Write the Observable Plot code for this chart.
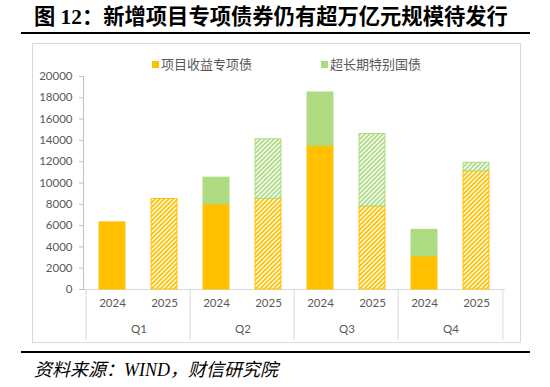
<!DOCTYPE html>
<html><head><meta charset="utf-8">
<script src="https://cdn.jsdelivr.net/npm/d3@7"></script>
<script src="https://cdn.jsdelivr.net/npm/@observablehq/plot@0.6"></script>
<style>
body{margin:0;background:#fff;}
#wrap{position:relative;width:550px;height:387px;overflow:hidden;font-family:"Noto Sans CJK SC",sans-serif;}
#wrap svg{position:absolute;left:0;top:0;}
#frame{position:absolute;left:32px;top:43px;width:487px;height:298px;border:1px solid #d9d9d9;}
.rule{position:absolute;left:21px;width:509px;height:2px;background:#000;}
#title{position:absolute;left:34px;top:4px;font-family:"Liberation Serif","Noto Sans CJK SC",serif;font-weight:700;font-size:21.3px;line-height:26px;color:#000;white-space:nowrap;}
#source{position:absolute;left:34px;top:358px;font-family:"Liberation Serif","Noto Sans CJK SC",serif;font-style:italic;font-size:18px;line-height:24px;color:#000;white-space:nowrap;}
.leg{position:absolute;top:56px;font-size:13px;line-height:16px;color:#595959;white-space:nowrap;}
.sw{display:inline-block;width:7px;height:7px;margin-right:2px;vertical-align:1px;}
</style></head><body>
<div id="wrap">
  <div id="frame"></div>
  <div id="title">图 12：新增项目专项债券仍有超万亿元规模待发行</div>
  <div class="rule" style="top:32px"></div>
  <div class="leg" id="leg0" style="left:152px"></div>
  <div class="leg" id="leg1" style="left:321px"></div>
  <div class="rule" style="top:351px"></div>
  <div id="source">资料来源：WIND，财信研究院</div>
</div>
<script>
// ---- data ----
const quarters = ["Q1", "Q2", "Q3", "Q4"];
const years = ["2024", "2025"];
const seriesNames = ["项目收益专项债", "超长期特别国债"];
const seriesColors = ["#FFC000", "#AEDB82"];
const specialBonds = [6300, 8500, 8000, 8500, 13500, 7800, 3100, 11100];
const ultraLongBonds = [0, 0, 2500, 5600, 5000, 6800, 2500, 800];
const yTicks = [0, 2000, 4000, 6000, 8000, 10000, 12000, 14000, 16000, 18000, 20000];

const keys = quarters.flatMap(q => years.map(y => `${q}-${y}`));
const rows = [];
[specialBonds, ultraLongBonds].forEach((vals, si) => {
  keys.forEach((k, i) => {
    if (vals[i] > 0) rows.push({key: k, year: k.split("-")[1], si, series: seriesNames[si], value: vals[i]});
  });
});

const W = 550, H = 387, mL = 83, mR = 45, mT = 76, mB = 98;
const step = (W - mL - mR) / keys.length;
const plotH = H - mT - mB;

const colorDomain = ["s0", "h0", "s1", "h1"];
const colorRange = [seriesColors[0], "url(#hatch0)", seriesColors[1], "url(#hatch1)"];

const chart = Plot.plot({
  width: W, height: H,
  marginLeft: mL, marginRight: mR, marginTop: mT, marginBottom: mB,
  style: {background: "transparent", fontFamily: "Lato, 'Noto Sans', sans-serif", fontSize: "11.5px", color: "#595959"},
  x: {type: "band", domain: keys, paddingInner: 0.5, paddingOuter: 0.25, axis: null},
  y: {domain: [0, 20000], axis: null},
  color: {type: "ordinal", domain: colorDomain, range: colorRange},
  marks: [
    Plot.ruleY([0], {stroke: "#d9d9d9"}),
    Plot.ruleX(quarters.map(q => `${q}-2024`), {dx: -step / 2, insetTop: plotH, insetBottom: -51, stroke: "#d9d9d9"}),
    Plot.ruleX([keys[keys.length - 1]], {dx: step / 2, insetTop: plotH, insetBottom: -51, stroke: "#d9d9d9"}),
    Plot.barY(rows, Plot.stackY({
      x: "key", y: "value", z: "series",
      fill: d => (d.year === "2025" ? "h" : "s") + d.si,
      stroke: d => "s" + d.si,
      strokeWidth: 1
    })),
    Plot.frame({anchor: "left", stroke: "#bfbfbf"}),
    Plot.axisY({ticks: yTicks, tickSize: 4, tickPadding: 7, tickFormat: d => String(d), stroke: "#bfbfbf", fill: "#595959", label: null, fontSize: 11.5}),
    Plot.text(keys, {x: d => d, text: d => d.split("-")[1], frameAnchor: "bottom", dy: 17, fill: "#595959", fontSize: 11.5}),
    Plot.text(quarters, {x: q => `${q}-2024`, dx: step / 2, text: q => q, frameAnchor: "bottom", dy: 43, fill: "#595959", fontSize: 11.5})
  ]
});

// hatch patterns (diagonal "/" stripes)
const svg = d3.select(chart);
const defs = svg.insert("defs", ":first-child");
seriesColors.forEach((c, i) => {
  const p = defs.append("pattern")
    .attr("id", "hatch" + i)
    .attr("patternUnits", "userSpaceOnUse")
    .attr("width", 3.2).attr("height", 3.2)
    .attr("patternTransform", "rotate(45)");
  p.append("rect").attr("width", 3.2).attr("height", 3.2).attr("fill", "#fff");
  p.append("rect").attr("width", 1.8).attr("height", 3.2).attr("fill", c);
});

document.getElementById("wrap").insertBefore(chart, document.getElementById("title"));

// legend
seriesNames.forEach((n, i) => {
  const el = document.getElementById("leg" + i);
  el.innerHTML = `<span class="sw" style="background:${seriesColors[i]}"></span>${n}`;
});
</script>
</body></html>
